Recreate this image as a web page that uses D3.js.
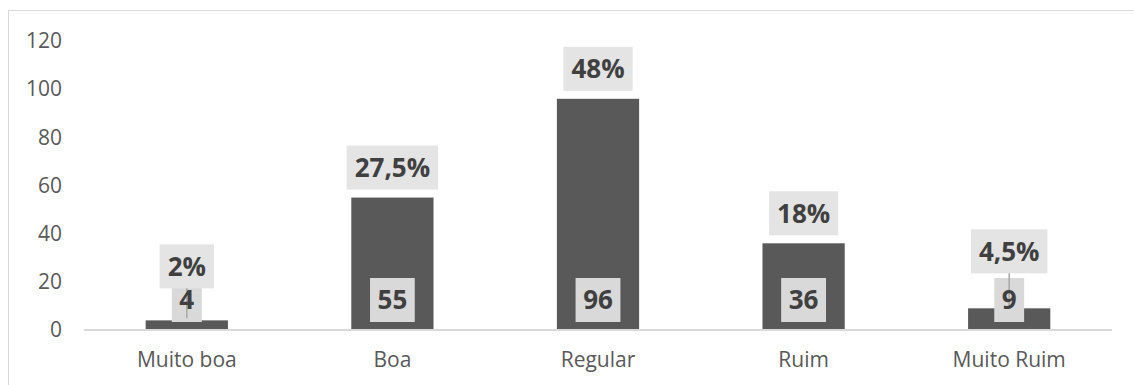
<!DOCTYPE html>
<html>
<head>
<meta charset="utf-8">
<script src="https://cdn.jsdelivr.net/npm/d3@7"></script>
<style>
  html, body { margin: 0; padding: 0; background: #fff; }
  svg { display: block; font-family: "Open Sans", "Noto Sans", sans-serif; }
</style>
</head>
<body>
<svg id="chart" width="1134" height="385"></svg>
<script>
// Avaliação: respostas por categoria
const categories = ["Muito boa", "Boa", "Regular", "Ruim", "Muito Ruim"];
const counts = [4, 55, 96, 36, 9];
const percentLabels = ["2%", "27,5%", "48%", "18%", "4,5%"];
const yTicks = [0, 20, 40, 60, 80, 100, 120];

// Manual lift (px) for percentage labels that would collide with the count label
const pctLift = { "Muito boa": 24, "Muito Ruim": 27 };

const svg = d3.select("#chart");
const W = 1134, H = 385;

// chart frame (open on the right and bottom edges)
svg.append("rect")
  .attr("x", 8.5).attr("y", 10.5)
  .attr("width", W + 20).attr("height", H + 20)
  .attr("fill", "none").attr("stroke", "#d9d9d9").attr("stroke-width", 1);

const plot = { left: 84, right: 1112, top: 41, bottom: 330 };

const x = d3.scaleBand().domain(categories)
  .range([plot.left, plot.right]).paddingInner(0.6).paddingOuter(0.3);
const y = d3.scaleLinear().domain([0, 120]).range([plot.bottom, plot.top]);

// y axis labels
const yAxis = d3.axisLeft(y).tickValues(yTicks).tickSize(0).tickPadding(0);
const gy = svg.append("g").attr("transform", "translate(62,0)").call(yAxis);
gy.select(".domain").remove();
gy.selectAll("text")
  .attr("fill", "#595959").attr("font-size", 21)
  .attr("font-family", "'Open Sans', sans-serif");

// bars
svg.append("g").selectAll("rect")
  .data(categories)
  .join("rect")
  .attr("x", d => x(d))
  .attr("width", x.bandwidth())
  .attr("y", (d, i) => y(counts[i]))
  .attr("height", (d, i) => y(0) - y(counts[i]))
  .attr("fill", "#595959");

// baseline / category axis
const xAxis = d3.axisBottom(x).tickSize(0).tickPadding(22);
const gx = svg.append("g").attr("transform", `translate(0,${plot.bottom})`).call(xAxis);
gx.select(".domain").attr("stroke", "#d9d9d9").attr("stroke-width", 2)
  .attr("d", `M${plot.left},0H${plot.right}`);
gx.selectAll("text")
  .attr("fill", "#595959").attr("font-size", 21)
  .attr("font-family", "'Open Sans', sans-serif");

const labelFont = 26;
const boxH = 44;

// count label boxes at the foot of each bar
const countG = svg.append("g").selectAll("g")
  .data(categories).join("g")
  .attr("transform", d => `translate(${x(d) + x.bandwidth() / 2},${y(0) - 30})`);

// percentage labels above each bar
const pctG = svg.append("g").selectAll("g")
  .data(categories).join("g")
  .attr("transform", (d, i) => {
    const bottom = y(counts[i]) - 8 - (pctLift[d] || 0);
    return `translate(${x(d) + x.bandwidth() / 2},${bottom - boxH / 2})`;
  });

pctG.append("rect").attr("fill", "#e4e4e4");
pctG.append("text")
  .text((d, i) => percentLabels[i])
  .attr("text-anchor", "middle").attr("dy", "0.36em")
  .attr("font-size", labelFont).attr("font-weight", "bold").attr("fill", "#404040");
pctG.each(function () {
  const g = d3.select(this);
  const w = g.select("text").node().getBBox().width + 16;
  g.select("rect").attr("x", -w / 2).attr("y", -boxH / 2).attr("width", w).attr("height", boxH);
});

countG.append("rect").attr("fill", "#d9d9d9");

// leader lines for lifted percentage labels
svg.append("g").selectAll("line")
  .data(categories.filter(d => pctLift[d]))
  .join("line")
  .attr("x1", d => x(d) + x.bandwidth() / 2)
  .attr("x2", d => x(d) + x.bandwidth() / 2)
  .attr("y1", d => y(counts[categories.indexOf(d)]) - 8 - pctLift[d])
  .attr("y2", d => y(counts[categories.indexOf(d)]) - 2)
  .attr("stroke", "#a6a6a6").attr("stroke-width", 1.5);

// count label text drawn over its box and the leader line
const countText = svg.append("g").selectAll("text")
  .data(categories).join("text")
  .attr("x", d => x(d) + x.bandwidth() / 2)
  .attr("y", y(0) - 30)
  .text((d, i) => counts[i])
  .attr("text-anchor", "middle").attr("dy", "0.36em")
  .attr("font-size", labelFont).attr("font-weight", "bold").attr("fill", "#404040");

countG.each(function (d, i) {
  const w = countText.nodes()[i].getBBox().width + 15;
  d3.select(this).select("rect")
    .attr("x", -w / 2).attr("y", -boxH / 2).attr("width", w).attr("height", boxH);
});
</script>
</body>
</html>
